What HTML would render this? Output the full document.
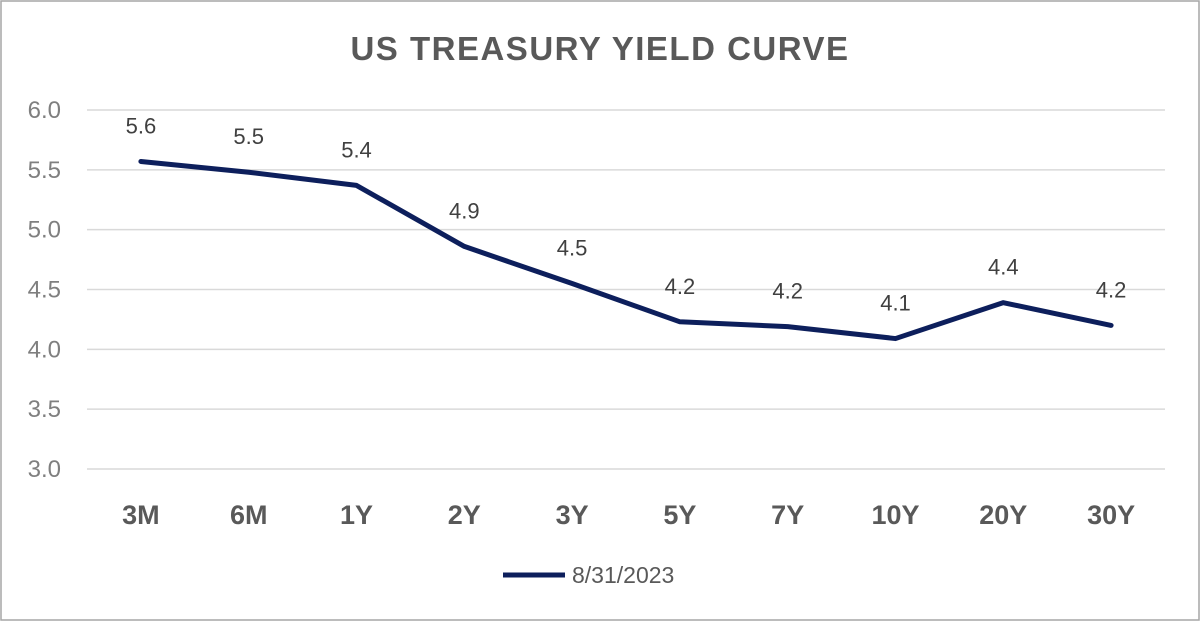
<!DOCTYPE html>
<html><head><meta charset="utf-8"><style>
html,body{margin:0;padding:0;background:#fff;}
svg{display:block;font-family:"Liberation Sans",sans-serif;}
</style></head><body>
<svg id="chart" width="1200" height="621" viewBox="0 0 1200 621">
<rect x="1" y="1" width="1198" height="619" fill="#fff" stroke="#a6a6a6" stroke-width="1.5"/>
<text x="600" y="60" text-anchor="middle" font-size="33" font-weight="bold" letter-spacing="1.5" fill="#595959">US TREASURY YIELD CURVE</text>
<g id="grid"></g><g id="yticks"></g><g id="xticks"></g><g id="series"></g><g id="labels"></g>
<g>
<line x1="503" y1="575" x2="565" y2="575" stroke="#0d1f5c" stroke-width="5"/>
<text x="572" y="583" font-size="23" fill="#595959">8/31/2023</text>
</g>
</svg>
<script>
const categories=["3M","6M","1Y","2Y","3Y","5Y","7Y","10Y","20Y","30Y"];
const yields=[5.57,5.48,5.37,4.86,4.55,4.23,4.19,4.09,4.39,4.20];
const valueLabels=["5.6","5.5","5.4","4.9","4.5","4.2","4.2","4.1","4.4","4.2"];
const yTickValues=[3.0,3.5,4.0,4.5,5.0,5.5,6.0];
const NS="http://www.w3.org/2000/svg";
const L=87,R=1165,T=110,B=469,ymin=3,ymax=6;
const x=i=>L+(R-L)/categories.length*(i+0.5);
const y=v=>B-(v-ymin)/(ymax-ymin)*(B-T);
function mk(t,a,p){const e=document.createElementNS(NS,t);for(const k in a)e.setAttribute(k,a[k]);p.appendChild(e);return e;}
const grid=document.getElementById('grid'),yt=document.getElementById('yticks'),xt=document.getElementById('xticks');
yTickValues.forEach(v=>{
 const g=mk('line',{x1:L,x2:R,y1:y(v),y2:y(v),stroke:'#d9d9d9','stroke-width':1.5},grid);
 
 
 const t=mk('text',{x:61,y:y(v)+8,'text-anchor':'end','font-size':24,fill:'#7f7f7f'},yt);
 t.textContent=v.toFixed(1);
 
 
});
categories.forEach((c,i)=>{
 const t=mk('text',{x:x(i),y:524,'text-anchor':'middle','font-size':27,'font-weight':'bold',fill:'#595959'},xt);
 t.textContent=c;
 
 
});
const pts=yields.map((v,i)=>x(i)+','+y(v)).join(' ');
const pl=mk('polyline',{points:pts,fill:'none',stroke:'#0d1f5c','stroke-width':5,'stroke-linejoin':'round','stroke-linecap':'round'},document.getElementById('series'));


const lg=document.getElementById('labels');
yields.forEach((v,i)=>{
 const t=mk('text',{x:x(i),y:y(v)-28,'text-anchor':'middle','font-size':22,fill:'#404040'},lg);
 t.textContent=valueLabels[i];
 
 
});
</script>
</body></html>
